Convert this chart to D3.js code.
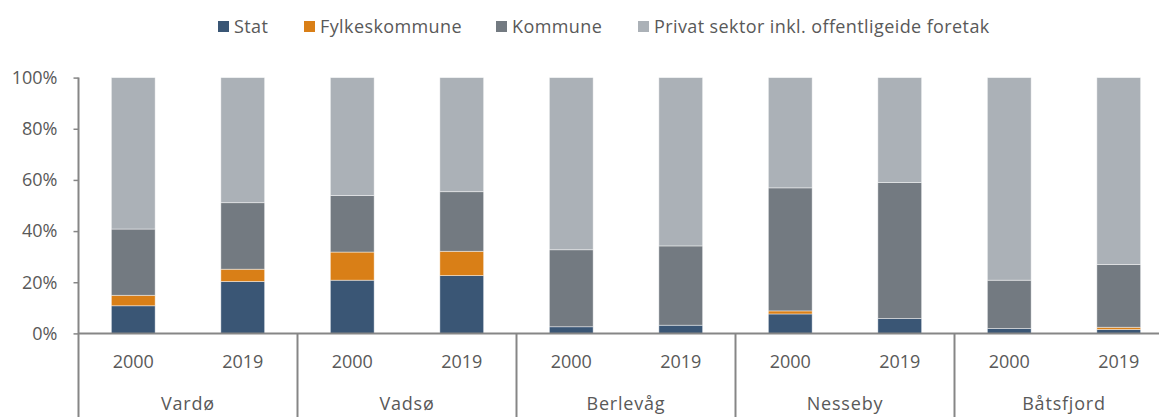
<!DOCTYPE html>
<html>
<head>
<meta charset="utf-8">
<script src="https://cdn.jsdelivr.net/npm/d3@7"></script>
<style>
  body { margin: 0; background: #fff; }
  svg { display: block; font-family: "Open Sans", Lato, sans-serif; }
  .lbl { fill: #595959; font-size: 18px; }
  .leg { letter-spacing: 0.4px; }
  .grp { letter-spacing: 0.8px; }
</style>
</head>
<body>
<svg id="chart" width="1159" height="417"></svg>
<script>
    'use strict';

    // kommuner og år
    var groups = [ 'Vardø', 'Vadsø', 'Berlevåg', 'Nesseby', 'Båtsfjord' ];
    var years = [ '2000', '2019' ];

    var series = [ 'Stat', 'Fylkeskommune', 'Kommune', 'Privat sektor inkl. offentligeide foretak' ];
    var colors = [ '#3a5675', '#d97f17', '#737a81', '#abb1b7' ];

    // andeler i prosent, rekkefølge: Vardø 2000, Vardø 2019, Vadsø 2000, ...
    var stat    = [ 10.8, 20.3, 20.8, 22.6, 2.6, 3.2, 7.6, 5.8, 1.9, 1.5 ];
    var fylke   = [  4.1,  4.8, 11.0,  9.5, 0.0, 0.0, 1.2, 0.0, 0.0, 0.9 ];
    var kommune = [ 25.9, 26.0, 22.1, 23.3, 30.1, 31.0, 48.1, 53.2, 18.9, 24.5 ];
    var privat  = [ 59.2, 48.9, 46.1, 44.6, 67.3, 65.8, 43.1, 41.0, 79.2, 73.1 ];

    var yTicks = [ 0, 20, 40, 60, 80, 100 ];

    var svg = d3.select( '#chart' ),
        plotTop = 77.6,
        plotBottom = 333.4,
        plotLeft = 78.5,
        plotRight = 1173.5;

    var rows = [];
    groups.forEach( function( g, gi ){
        years.forEach( function( yr, yi ){
            var i = gi * years.length + yi;
            rows.push({
                key : g + '|' + yr,
                group : g,
                year : yr,
                Stat : stat[i],
                Fylkeskommune : fylke[i],
                Kommune : kommune[i],
                'Privat sektor inkl. offentligeide foretak' : privat[i]
            });
        });
    });

    var x = d3.scaleBand()
        .domain( rows.map( function( r ){ return r.key; } ) )
        .range( [ plotLeft, plotRight ] )
        .paddingInner( 0.6 )
        .paddingOuter( 0.3 );

    var y = d3.scaleLinear().domain( [ 0, 100 ] ).range( [ plotBottom, plotTop ] );

    var color = d3.scaleOrdinal().domain( series ).range( colors );

    var stacked = d3.stack().keys( series )( rows );

    // bars
    svg.append( 'g' ).selectAll( 'g' )
        .data( stacked )
        .join( 'g' )
        .attr( 'fill', function( d ){ return color( d.key ); } )
        .selectAll( 'rect' )
        .data( function( d ){ return d; } )
        .join( 'rect' )
        .attr( 'x', function( d ){ return x( d.data.key ); } )
        .attr( 'y', function( d ){ return y( d[1] ); } )
        .attr( 'width', x.bandwidth() )
        .attr( 'height', function( d ){ return Math.max( 0, y( d[0] ) - y( d[1] ) ); } )
        .attr( 'stroke', 'rgba(255,255,255,0.55)' )
        .attr( 'stroke-width', 0.8 );

    // y axis
    var yAxis = svg.append( 'g' )
        .attr( 'transform', 'translate(' + plotLeft + ',0)' )
        .call( d3.axisLeft( y ).tickValues( yTicks ).tickSize( 5 ).tickPadding( 16 )
            .tickFormat( function( d ){ return d + '%'; } ) );
    yAxis.select( '.domain' ).remove();
    yAxis.selectAll( '.tick line' ).attr( 'stroke', '#868686' ).attr( 'stroke-width', 1.5 );
    yAxis.selectAll( '.tick text' ).attr( 'class', 'lbl' );
    yAxis.attr( 'font-family', null ).attr( 'font-size', null );

    svg.append( 'line' )
        .attr( 'x1', plotLeft ).attr( 'x2', plotLeft )
        .attr( 'y1', plotTop ).attr( 'y2', 417 )
        .attr( 'stroke', '#868686' ).attr( 'stroke-width', 2 );

    // x baseline
    svg.append( 'line' )
        .attr( 'x1', plotLeft ).attr( 'x2', plotRight )
        .attr( 'y1', plotBottom ).attr( 'y2', plotBottom )
        .attr( 'stroke', '#868686' ).attr( 'stroke-width', 2 );

    // year labels
    svg.append( 'g' ).selectAll( 'text' )
        .data( rows )
        .join( 'text' )
        .attr( 'class', 'lbl' )
        .attr( 'x', function( d ){ return x( d.key ) + x.bandwidth() / 2; } )
        .attr( 'y', 367.5 )
        .attr( 'text-anchor', 'middle' )
        .text( function( d ){ return d.year; } );

    // group labels and dividers
    function groupStart( gi ){
        return plotLeft + gi * years.length * ( plotRight - plotLeft ) / rows.length;
    }

    svg.append( 'g' ).selectAll( 'line' )
        .data( groups )
        .join( 'line' )
        .attr( 'x1', function( d, i ){ return groupStart( i + 1 ); } )
        .attr( 'x2', function( d, i ){ return groupStart( i + 1 ); } )
        .attr( 'y1', plotBottom )
        .attr( 'y2', 417 )
        .attr( 'stroke', '#868686' )
        .attr( 'stroke-width', 2 );

    svg.append( 'g' ).selectAll( 'text' )
        .data( groups )
        .join( 'text' )
        .attr( 'class', 'lbl grp' )
        .attr( 'x', function( d, i ){ return ( groupStart( i ) + groupStart( i + 1 ) ) / 2; } )
        .attr( 'y', 409.5 )
        .attr( 'text-anchor', 'middle' )
        .text( function( d ){ return d; } );

    // legend
    var legendX = [ 218, 304, 496, 638 ];
    var legend = svg.append( 'g' ).selectAll( 'g' )
        .data( series )
        .join( 'g' )
        .attr( 'transform', function( d, i ){ return 'translate(' + legendX[i] + ',21)'; } );
    legend.append( 'rect' )
        .attr( 'width', 11 ).attr( 'height', 11 )
        .attr( 'fill', function( d ){ return color( d ); } );
    legend.append( 'text' )
        .attr( 'class', 'lbl leg' )
        .attr( 'x', 16 ).attr( 'y', 12 )
        .text( function( d ){ return d; } );
</script>
</body>
</html>
